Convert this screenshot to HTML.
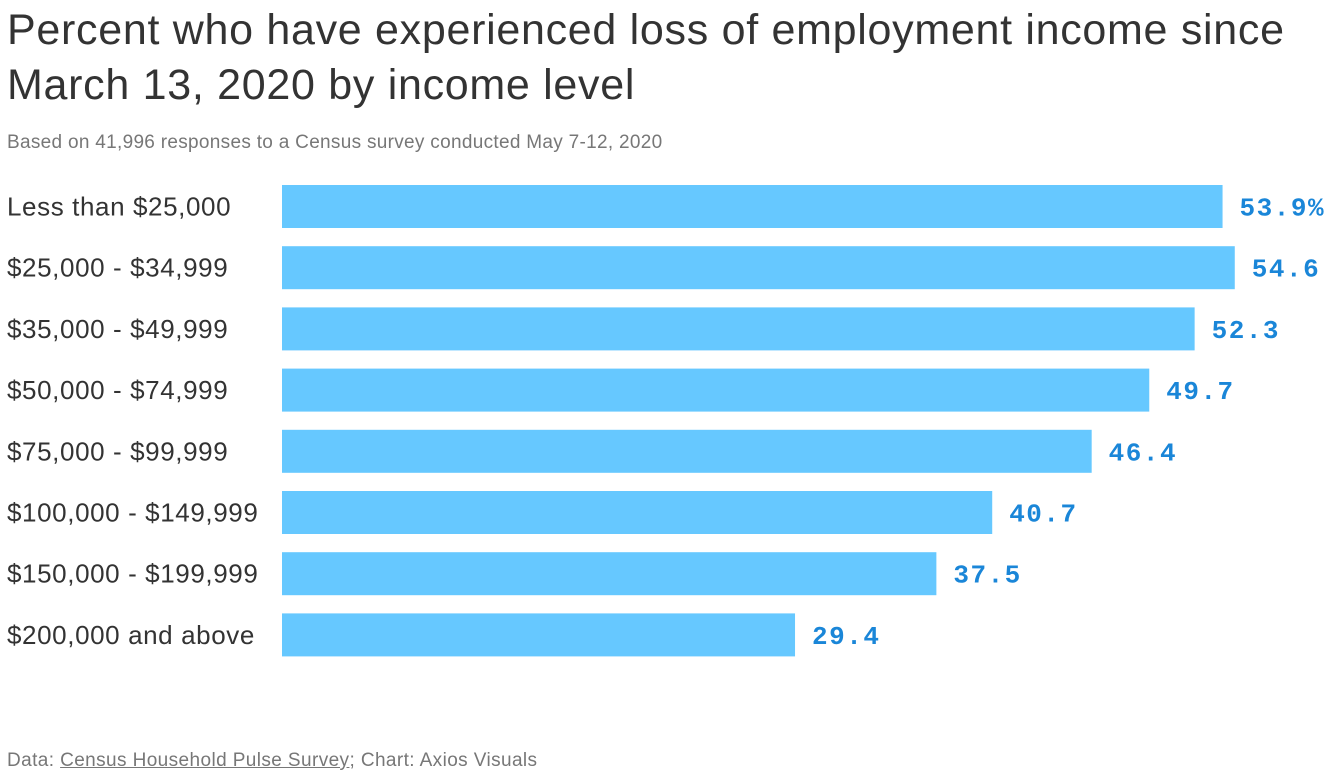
<!DOCTYPE html>
<html><head><meta charset="utf-8">
<style>
body{margin:0;width:1340px;height:782px;background:#fff;font-family:"Liberation Sans",sans-serif;overflow:hidden;position:relative}
#title{position:absolute;left:7px;top:3px;font-size:43px;line-height:55px;color:#333;letter-spacing:0.7px;margin:0;font-weight:normal;white-space:nowrap}
#sub{position:absolute;left:7px;top:132px;font-size:19px;color:#777;letter-spacing:0.3px}
#foot{position:absolute;left:7px;top:750px;font-size:19px;color:#777;letter-spacing:0.4px}
#foot span{text-decoration:underline}
svg{position:absolute;left:0;top:0}
</style></head><body>
<h1 id="title">Percent who have experienced loss of employment income since<br>March 13, 2020 by income level</h1>
<div id="sub">Based on 41,996 responses to a Census survey conducted May 7-12, 2020</div>
<svg id="chart" width="1340" height="782"></svg>
<div id="foot">Data: <span>Census Household Pulse Survey</span>; Chart: Axios Visuals</div>
<script>
const categories=["Less than $25,000","$25,000 - $34,999","$35,000 - $49,999","$50,000 - $74,999","$75,000 - $99,999","$100,000 - $149,999","$150,000 - $199,999","$200,000 and above"];
const values=[53.9,54.6,52.3,49.7,46.4,40.7,37.5,29.4];
const valueLabels=["53.9%","54.6","52.3","49.7","46.4","40.7","37.5","29.4"];
const svg=document.getElementById('chart');
const NS='http://www.w3.org/2000/svg';
const x0=282,scale=17.45;
const xs=v=>x0+v*scale;
const ys=i=>185+i*61.2;
const bh=43;
categories.forEach((c,i)=>{
  const y=ys(i);
  const r=document.createElementNS(NS,'rect');
  r.setAttribute('x',x0);r.setAttribute('y',y);r.setAttribute('width',xs(values[i])-x0);r.setAttribute('height',bh);r.setAttribute('fill','#66c8ff');
  
  
  svg.appendChild(r);
  const t=document.createElementNS(NS,'text');
  t.setAttribute('x',7);t.setAttribute('y',y+bh/2+9);t.setAttribute('font-size','26');t.setAttribute('fill','#333');t.setAttribute('font-family','Liberation Sans, sans-serif');t.setAttribute('letter-spacing','0.6');
  t.textContent=c;
  
  
  svg.appendChild(t);
  const v=document.createElementNS(NS,'text');
  v.setAttribute('x',xs(values[i])+17);v.setAttribute('y',y+bh/2+9);v.setAttribute('font-size','26');v.setAttribute('font-weight','bold');v.setAttribute('fill','#1a86d8');v.setAttribute('font-family','Liberation Mono, monospace');v.setAttribute('letter-spacing','1.5');
  v.textContent=valueLabels[i];
  
  
  svg.appendChild(v);
});
</script>
</body></html>
